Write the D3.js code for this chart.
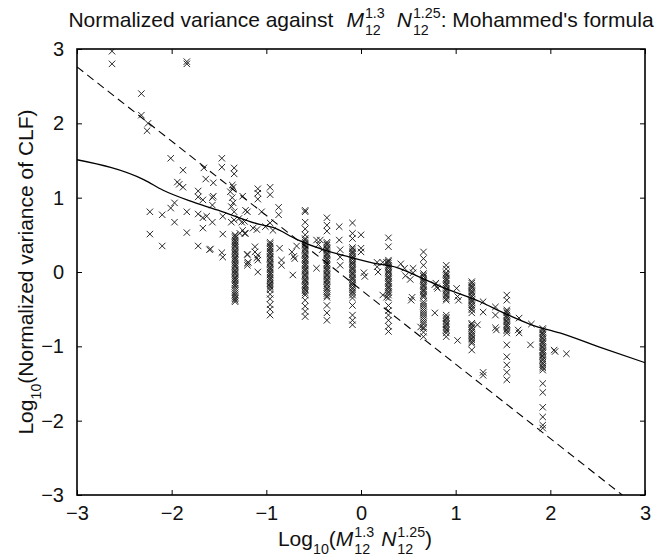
<!DOCTYPE html>
<html><head><meta charset="utf-8">
<script src="https://cdn.jsdelivr.net/npm/d3@7"></script>
<style>body{margin:0;background:#fff}text{font-family:"Liberation Sans",Arial,sans-serif;fill:#111}</style>
</head><body><svg id="c" width="655" height="559"></svg>
<script>
const xTicks = [-3,-2,-1,0,1,2,3];
const yTicks = [-3,-2,-1,0,1,2,3];
// vertical clusters of points
const colX = [-1.33,-0.96,-0.59,-0.36,-0.09,0.29,0.66,0.90,1.17,1.54,1.92];
const colY = [
 [0.50,0.48,0.46,0.43,0.41,0.39,0.37,0.35,0.33,0.30,0.28,0.26,0.24,0.21,0.19,0.17,0.15,0.12,0.10,0.08,0.06,0.03,0.01,-0.01,-0.03,-0.06,-0.08,-0.10,-0.12,-0.15,-0.17,-0.19,-0.22,-0.25,-0.28,-0.31,-0.34,-0.36,-0.38,-0.40],
 [0.40,0.38,0.35,0.33,0.31,0.28,0.26,0.24,0.21,0.19,0.17,0.14,0.12,0.10,0.07,0.05,0.03,0.00,-0.02,-0.04,-0.07,-0.09,-0.11,-0.14,-0.16,-0.19,-0.21,-0.24,-0.30,-0.36,-0.44,-0.50,-0.58],
 [0.83,0.81,0.67,0.58,0.50,0.45,0.43,0.40,0.38,0.36,0.33,0.31,0.29,0.26,0.24,0.22,0.19,0.17,0.15,0.12,0.10,0.08,0.05,0.03,0.01,-0.02,-0.04,-0.06,-0.09,-0.11,-0.13,-0.16,-0.18,-0.20,-0.23,-0.25,-0.28,-0.31,-0.38,-0.46,-0.53,-0.60],
 [0.73,0.63,0.55,0.40,0.38,0.36,0.33,0.31,0.29,0.26,0.24,0.22,0.19,0.17,0.15,0.12,0.10,0.08,0.05,0.03,0.01,-0.02,-0.04,-0.06,-0.09,-0.11,-0.13,-0.16,-0.18,-0.21,-0.23,-0.26,-0.29,-0.32,-0.34,-0.45,-0.55,-0.65],
 [0.66,0.52,0.45,0.33,0.31,0.28,0.26,0.24,0.21,0.19,0.17,0.14,0.12,0.10,0.07,0.05,0.03,0.00,-0.02,-0.04,-0.07,-0.09,-0.11,-0.14,-0.16,-0.18,-0.21,-0.23,-0.26,-0.28,-0.31,-0.35,-0.45,-0.58,-0.65,-0.71],
 [0.46,0.34,0.16,0.14,0.12,0.09,0.07,0.05,0.02,0.00,-0.02,-0.05,-0.07,-0.09,-0.12,-0.14,-0.16,-0.19,-0.21,-0.23,-0.26,-0.28,-0.31,-0.35,-0.45,-0.52,-0.58,-0.65,-0.73,-0.80],
 [0.27,0.18,0.09,-0.02,-0.04,-0.06,-0.09,-0.11,-0.13,-0.16,-0.18,-0.20,-0.23,-0.25,-0.27,-0.30,-0.32,-0.34,-0.40,-0.43,-0.46,-0.49,-0.52,-0.55,-0.58,-0.61,-0.64,-0.67,-0.70,-0.74,-0.81,-0.87],
 [0.09,0.04,-0.01,-0.03,-0.05,-0.08,-0.10,-0.12,-0.15,-0.17,-0.19,-0.22,-0.24,-0.26,-0.29,-0.31,-0.33,-0.36,-0.38,-0.58,-0.61,-0.63,-0.66,-0.69,-0.71,-0.74,-0.77,-0.79,-0.82,-0.87],
 [-0.13,-0.15,-0.18,-0.20,-0.22,-0.25,-0.27,-0.29,-0.32,-0.34,-0.37,-0.39,-0.41,-0.44,-0.46,-0.49,-0.51,-0.55,-0.69,-0.71,-0.74,-0.76,-0.79,-0.81,-0.84,-0.86,-0.89,-0.91,-0.94,-0.96,-1.05],
 [-0.31,-0.38,-0.51,-0.53,-0.55,-0.58,-0.60,-0.62,-0.65,-0.67,-0.70,-0.72,-0.74,-0.77,-0.79,-0.82,-0.98,-1.14,-1.25,-1.35,-1.45],
 [-0.76,-0.78,-0.81,-0.83,-0.85,-0.88,-0.90,-0.93,-0.95,-0.97,-1.00,-1.02,-1.05,-1.07,-1.09,-1.12,-1.14,-1.17,-1.19,-1.22,-1.24,-1.27,-1.29,-1.32,-1.50,-1.62,-1.82,-1.95,-2.06,-2.10]
];
// scattered points
const looseX = [-2.63,-2.63,-1.84,-1.84,-2.32,-2.32,-2.25,-2.26,-2.01,-1.88,-1.94,-1.92,-1.88,-1.66,-1.64,-1.56,-1.47,-1.47,-1.34,-1.34,-1.35,-1.72,-1.72,-1.56,-1.25,-1.09,
 -2.23,-2.10,-2.01,-1.97,-1.97,-2.23,-2.10,-1.84,-1.84,-1.67,-1.57,-1.72,-1.67,-1.63,-1.57,-1.67,-1.72,-1.60,-1.59,-1.47,-1.46,-1.46,-1.46,-1.57,-1.37,-1.35,-1.34,-1.36,-1.38,-1.36,-1.37,-1.34,-1.29,-1.26,-1.23,-1.20,-1.23,-1.28,-1.20,-1.20,-1.19,-1.12,-1.09,-1.09,-1.09,
 -1.09,-1.09,-0.96,-0.96,-1.22,-0.87,-0.87,-1.05,
 -1.25,-1.22,-1.14,-1.10,-1.01,-0.96,-0.93,-0.86,-0.84,-0.84,-0.72,-0.73,-0.71,-0.70,-0.68,-1.12,-1.10,-1.20,-1.20,
 -0.47,-0.43,-0.45,-0.41,-0.47,-0.23,-0.23,-0.22,-0.22,-0.22,0.00,0.00,0.00,0.03,0.04,0.17,0.17,0.18,0.23,0.27,0.23,0.27,0.42,0.46,0.47,0.55,0.55,0.52,0.54,0.53,0.63,0.66,0.79,0.80,0.81,0.78,0.78,
 1.01,1.02,1.03,1.02,1.23,1.29,1.29,1.29,1.29,1.42,1.42,1.42,1.43,1.67,1.67,1.66,1.80,1.79,2.04,2.05,2.17];
const looseY = [2.97,2.80,2.83,2.80,2.40,2.11,2.00,1.90,1.53,1.37,1.21,1.18,1.14,1.40,1.25,1.20,1.53,1.41,1.40,1.32,1.14,1.09,1.01,1.02,1.02,1.12,
 0.81,0.77,0.86,0.93,0.67,0.51,0.35,0.81,0.53,0.97,1.00,0.78,0.73,0.75,0.67,0.59,0.35,0.30,0.31,0.26,0.20,0.51,0.75,0.90,0.88,0.93,0.81,1.00,1.08,1.17,0.67,0.70,0.72,0.67,0.68,0.81,0.52,0.52,0.24,0.12,0.13,0.34,0.23,0.16,0.00,
 1.06,0.98,1.14,1.04,0.83,0.87,0.77,0.81,
 0.56,0.52,0.59,0.57,0.61,0.66,0.56,0.32,0.16,0.09,-0.04,0.27,0.21,0.18,0.35,0.27,0.19,0.23,0.09,
 0.43,0.43,0.37,0.30,0.05,0.61,0.43,0.30,0.20,0.09,0.50,0.32,0.27,-0.01,-0.06,0.13,0.07,0.00,0.13,0.13,-0.31,-0.34,0.11,0.05,-0.05,0.05,-0.01,-0.10,-0.34,-0.38,-0.74,-0.76,-0.15,-0.20,-0.22,-0.17,-0.55,
 -0.22,-0.33,-0.38,-0.92,-0.71,-0.40,-0.54,-1.35,-1.39,-0.47,-0.58,-0.75,-0.78,-0.62,-0.82,-0.78,-0.70,-0.98,-1.05,-1.07,-1.10];
// fitted curve (solid) and regression line (dashed)
const solidX = [-3,-2.29,-2.09,-1.77,-1.46,-1.07,-0.93,-0.68,-0.40,-0.12,0.13,0.38,0.62,0.83,1.26,1.54,1.80,2.10,2.52,3];
const solidY = [1.51,1.24,1.10,0.94,0.81,0.64,0.60,0.44,0.30,0.20,0.12,0.06,-0.07,-0.19,-0.40,-0.57,-0.71,-0.82,-1.01,-1.22];
const dashX = [-3,2.76];
const dashY = [2.76,-3];

const svg = d3.select('#c');
const L=77,T=49,W=568,H=446;
const x = d3.scaleLinear().domain([-3,3]).range([L,L+W]);
const y = d3.scaleLinear().domain([-3,3]).range([T+H,T]);
const FS = 20, FL = 21;

svg.append('defs').append('clipPath').attr('id','clip').append('rect').attr('x',L).attr('y',T).attr('width',W).attr('height',H);
const plot = svg.append('g').attr('clip-path','url(#clip)');

const pts = [];
colX.forEach((cx,i)=>colY[i].forEach(v=>pts.push([cx,v])));
looseX.forEach((lx,i)=>pts.push([lx,looseY[i]]));
const s=3.2;
plot.append('path').attr('fill','none').attr('stroke','#1e1e1e').attr('stroke-width',0.95)
  .attr('d', pts.map(p=>{const px=x(p[0]),py=y(p[1]);return `M${px-s},${py-s}L${px+s},${py+s}M${px-s},${py+s}L${px+s},${py-s}`;}).join(''));

const line = d3.line().x(d=>x(d[0])).y(d=>y(d[1])).curve(d3.curveMonotoneX);
plot.append('path').datum(solidX.map((v,i)=>[v,solidY[i]])).attr('d',line).attr('fill','none').attr('stroke','#000').attr('stroke-width',1.3);
plot.append('path').datum(dashX.map((v,i)=>[v,dashY[i]])).attr('d',d3.line().x(d=>x(d[0])).y(d=>y(d[1]))).attr('fill','none').attr('stroke','#000').attr('stroke-width',1.1).attr('stroke-dasharray','8,5');

// axes (ticks inward on all sides)
const fmt = d=> d<0 ? '\u2212'+Math.abs(d) : ''+d;
const ax = [
  [d3.axisBottom(x).tickValues(xTicks).tickSizeInner(-5).tickSizeOuter(0).tickPadding(11).tickFormat(fmt), `translate(0,${T+H})`],
  [d3.axisTop(x).tickValues(xTicks).tickSizeInner(-5).tickSizeOuter(0).tickFormat(''), `translate(0,${T})`],
  [d3.axisLeft(y).tickValues(yTicks).tickSizeInner(-5).tickSizeOuter(0).tickPadding(13).tickFormat(fmt), `translate(${L},0)`],
  [d3.axisRight(y).tickValues(yTicks).tickSizeInner(-5).tickSizeOuter(0).tickFormat(''), `translate(${L+W},0)`]
];
ax.forEach(([a,tr])=>{
  const g = svg.append('g').attr('transform',tr).call(a);
  g.select('.domain').remove();
  g.selectAll('line').attr('stroke','#000').attr('stroke-width',1);
  g.selectAll('text').attr('font-size',FS).attr('font-family','"Liberation Sans",Arial,sans-serif').attr('fill','#111');
});
svg.append('rect').attr('x',L).attr('y',T).attr('width',W).attr('height',H).attr('fill','none').attr('stroke','#000').attr('stroke-width',1.6);

// rich text helper
function rich(parent, segs, fs){
  const g = parent.append('g');
  let cx = 0;
  segs.forEach(sg=>{
    if (sg.gap){ cx += sg.gap; return; }
    if (sg.stack){
      const sf = fs*0.68;
      const a = g.append('text').attr('x',cx).attr('y',-fs*0.42).attr('font-size',sf).text(sg.stack[0]);
      const b = g.append('text').attr('x',cx).attr('y',fs*0.36).attr('font-size',sf).text(sg.stack[1]);
      cx += Math.max(a.node().getComputedTextLength(), b.node().getComputedTextLength());
      return;
    }
    if (sg.sub){
      const t = g.append('text').attr('x',cx).attr('y',fs*0.36).attr('font-size',fs*0.68).text(sg.sub);
      cx += t.node().getComputedTextLength(); return;
    }
    const t = g.append('text').attr('x',cx).attr('y',0).attr('font-size',fs).attr('font-style',sg.it?'italic':null).text(sg.t);
    cx += t.node().getComputedTextLength();
  });
  return {g, w:cx};
}
const title = rich(svg, [{t:'Normalized variance against'},{gap:13},{t:'M',it:1},{gap:1},{stack:['1.3','12']},{gap:12},{t:'N',it:1},{gap:1},{stack:['1.25','12']},{t:': Mohammed\'s formula'}], FL);
title.g.attr('transform',`translate(${L+W/2-title.w/2},27)`);
const xl = rich(svg, [{t:'Log'},{sub:'10'},{t:'('},{t:'M',it:1},{gap:1},{stack:['1.3','12']},{gap:7},{t:'N',it:1},{gap:1},{stack:['1.25','12']},{t:')'}], FL);
xl.g.attr('transform',`translate(${L+W/2-6-xl.w/2},546)`);
const yl = rich(svg, [{t:'Log'},{sub:'10'},{t:'(Normalized variance of CLF)'}], FL);
yl.g.attr('transform',`translate(33,${T+H/2+yl.w/2}) rotate(-90)`);
</script></body></html>
